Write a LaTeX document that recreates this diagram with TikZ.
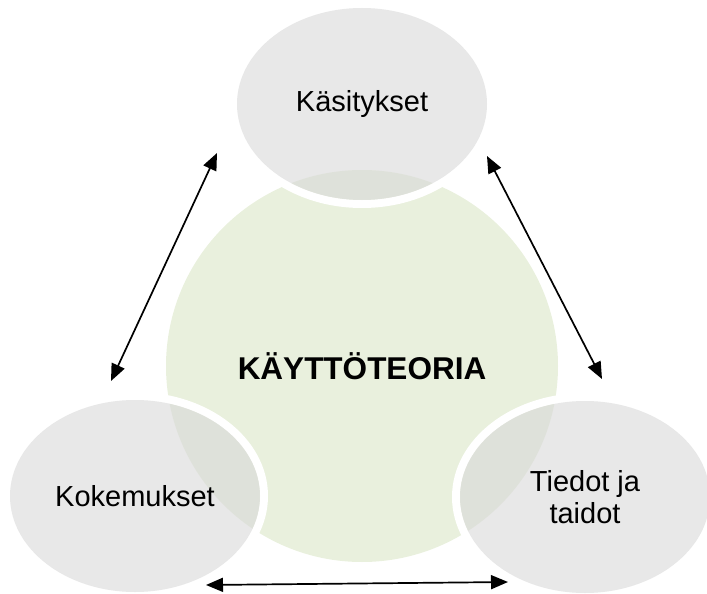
\documentclass[tikz,border=0pt]{standalone}
\usepackage{fontspec}
\setmainfont{Liberation Sans}
\usetikzlibrary{shapes.geometric,arrows.meta}
\definecolor{ellgray}{RGB}{216,216,216}
\definecolor{coregreen}{RGB}{233,240,221}
\tikzset{
  core/.style={circle, fill=coregreen, minimum size=392pt, inner sep=0pt,
    font=\fontsize{31.5}{36}\selectfont\bfseries},
  bubble/.style={ellipse, fill=ellgray, fill opacity=0.6, text opacity=1,
    minimum width=250pt, minimum height=192pt, inner sep=0pt, align=center,
    font=\fontsize{29}{32}\selectfont},
  ring/.style={draw=white, line width=8pt},
  link/.style={line width=1.7pt, {Triangle[length=17pt,width=14pt]}-{Triangle[length=17pt,width=14pt]}}
}
\begin{document}
\begin{tikzpicture}[x=1pt,y=-1pt]
\useasboundingbox (0,0) rectangle (707,594);
\node[core] (core) at (362,366) {KÄYTTÖTEORIA};
\draw[ring] (362,104) ellipse [x radius=129, y radius=100];
\draw[ring] (135,496) ellipse [x radius=129, y radius=100];
\draw[ring] (585,497) ellipse [x radius=129, y radius=100];
\node[bubble] (top) at (362,104) {Käsitykset};
\node[bubble] (left) at (135,496) {Kokemukset};
\node[bubble] (right) at (585,497) {Tiedot ja\\taidot};
\coordinate (l1) at (217,153);
\coordinate (l2) at (111,381);
\coordinate (r1) at (487,156);
\coordinate (r2) at (602,379);
\coordinate (b1) at (206,585);
\coordinate (b2) at (508,582);
\draw[link] (l1) -- (l2);
\draw[link] (r1) -- (r2);
\draw[link] (b1) -- (b2);
\end{tikzpicture}
\end{document}
